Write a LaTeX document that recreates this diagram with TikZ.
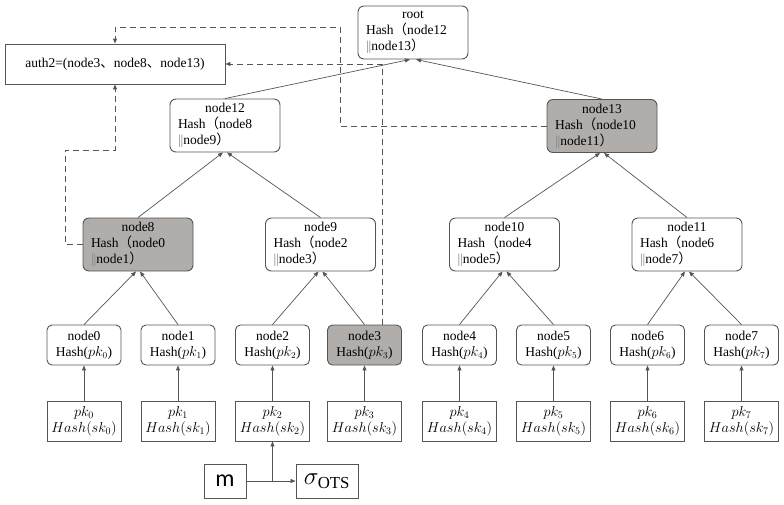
\documentclass[tikz,border=0pt]{standalone}
\usepackage{fontspec}
\setmainfont{Liberation Serif}
\newfontfamily\cjk{Noto Sans CJK SC}
\newfontfamily\calfont{Carlito}
\usepackage{xcolor}
\usepackage{tikz}
\usetikzlibrary{arrows.meta,positioning}

\definecolor{hashgray}{RGB}{176,173,171}
\definecolor{linegray}{RGB}{85,85,85}
\newcommand{\cjkch}[1]{{\cjk #1}}
\newcommand{\hashlines}[3]{\makebox[94pt]{#1}\\Hash\cjkch{（}#2\\{\color{gray}||}#3\cjkch{）}}

\begin{document}
\begin{tikzpicture}[
        x=1pt, y=-1pt,
        font=\fontsize{13.5}{16}\selectfont,
        hashbox/.style={draw=linegray, line width=0.9pt, rounded corners=6pt, fill=white,
            text width=94pt, inner xsep=8pt, inner ysep=2pt,
            minimum height=53pt, align=left},
        authbox/.style={hashbox, fill=hashgray},
        leafbox/.style={draw=linegray, line width=0.9pt, rounded corners=5pt, fill=white,
            minimum width=74pt, minimum height=40pt, inner sep=1pt, align=center},
        keybox/.style={draw=linegray, line width=0.9pt, minimum width=74pt, minimum height=40pt,
            inner sep=1pt, align=center, font=\fontsize{14.5}{16}\selectfont},
        plainbox/.style={draw=linegray, line width=0.9pt, minimum height=34pt, inner sep=1pt},
        tree/.style={-{Triangle[length=5pt,width=4pt]}, linegray, line width=0.7pt},
        authpath/.style={tree, dash pattern=on 6pt off 4pt, line width=0.9pt}
    ]
    \useasboundingbox (0,0) rectangle (784,504);

    % upper levels
    \node[hashbox] (root) at (413,32.5) {\hashlines{root}{node12}{node13}};
    \node[draw=linegray, line width=0.9pt, minimum width=220pt, minimum height=40pt] (auth2) at (115,64)
        {auth2=(node3\cjkch{、}node8\cjkch{、}node13)};

    \node[hashbox] (node12) at (225,125.5) {\hashlines{node12}{node8}{node9}};
    \node[authbox] (node13) at (602,126) {\hashlines{node13}{node10}{node11}};

    \node[authbox] (node8) at (138,244.5) {\hashlines{node8}{node0}{node1}};
    \node[hashbox] (node9) at (320.5,244.5) {\hashlines{node9}{node2}{node3}};
    \node[hashbox] (node10) at (504.5,244.5) {\hashlines{node10}{node4}{node5}};
    \node[hashbox] (node11) at (687,244.5) {\hashlines{node11}{node6}{node7}};

    % leaves
    \node[leafbox] (node0) at (84,345) {node0\\Hash($pk_0$)};
    \node[leafbox] (node1) at (178,345) {node1\\Hash($pk_1$)};
    \node[leafbox] (node2) at (272.5,345) {node2\\Hash($pk_2$)};
    \node[leafbox, fill=hashgray] (node3) at (364.5,345) {node3\\Hash($pk_3$)};
    \node[leafbox] (node4) at (459.5,345) {node4\\Hash($pk_4$)};
    \node[leafbox] (node5) at (553.5,345) {node5\\Hash($pk_5$)};
    \node[leafbox] (node6) at (647.5,345) {node6\\Hash($pk_6$)};
    \node[leafbox] (node7) at (741.5,345) {node7\\Hash($pk_7$)};

    % one-time keys
    \node[keybox] (pk0) at (84,421) {$pk_0$\\$Hash(sk_0)$};
    \node[keybox] (pk1) at (178,421) {$pk_1$\\$Hash(sk_1)$};
    \node[keybox] (pk2) at (272.5,421) {$pk_2$\\$Hash(sk_2)$};
    \node[keybox] (pk3) at (364.5,421) {$pk_3$\\$Hash(sk_3)$};
    \node[keybox] (pk4) at (459.5,421) {$pk_4$\\$Hash(sk_4)$};
    \node[keybox] (pk5) at (553.5,421) {$pk_5$\\$Hash(sk_5)$};
    \node[keybox] (pk6) at (647.5,421) {$pk_6$\\$Hash(sk_6)$};
    \node[keybox] (pk7) at (741.5,421) {$pk_7$\\$Hash(sk_7)$};

    \node[plainbox, minimum width=42pt, font=\calfont\fontsize{24}{24}\selectfont] (m) at (225,481) {m};
    \node[plainbox, minimum width=62pt, font=\fontsize{24}{24}\selectfont] (sigma) at (327,481) {$\sigma_{\mathrm{OTS}}$};

    % hash edges
    \draw[tree] (node12.north) -- ([xshift=-3pt]root.south);
    \draw[tree] (node13.north) -- ([xshift=3pt]root.south);
    \draw[tree] (node8.north) -- ([xshift=-2pt]node12.south);
    \draw[tree] (node9.north) -- ([xshift=2pt]node12.south);
    \draw[tree] (node10.north) -- ([xshift=-2pt]node13.south);
    \draw[tree] (node11.north) -- ([xshift=2pt]node13.south);
    \draw[tree] (node0.north) -- ([xshift=-2pt]node8.south);
    \draw[tree] (node1.north) -- ([xshift=2pt]node8.south);
    \draw[tree] (node2.north) -- ([xshift=-2pt]node9.south);
    \draw[tree] (node3.north) -- ([xshift=2pt]node9.south);
    \draw[tree] (node4.north) -- ([xshift=-2pt]node10.south);
    \draw[tree] (node5.north) -- ([xshift=2pt]node10.south);
    \draw[tree] (node6.north) -- ([xshift=-2pt]node11.south);
    \draw[tree] (node7.north) -- ([xshift=2pt]node11.south);

    \draw[tree] (pk0) -- (node0);
    \draw[tree] (pk1) -- (node1);
    \draw[tree] (pk2) -- (node2);
    \draw[tree] (pk3) -- (node3);
    \draw[tree] (pk4) -- (node4);
    \draw[tree] (pk5) -- (node5);
    \draw[tree] (pk6) -- (node6);
    \draw[tree] (pk7) -- (node7);

    \draw[tree] (m.east) -- (sigma.west);
    \draw[tree] (m.east -| pk2.south) -- (pk2.south);

    % authentication path
    \draw[authpath] (node8.west) -| (65,150) -| (auth2.south);
    \draw[authpath] ([xshift=17.5pt]node3.north) |- (auth2.east);
    \draw[authpath] (node13.west) -| (340,27) -| (auth2.north);

\end{tikzpicture}
\end{document}
